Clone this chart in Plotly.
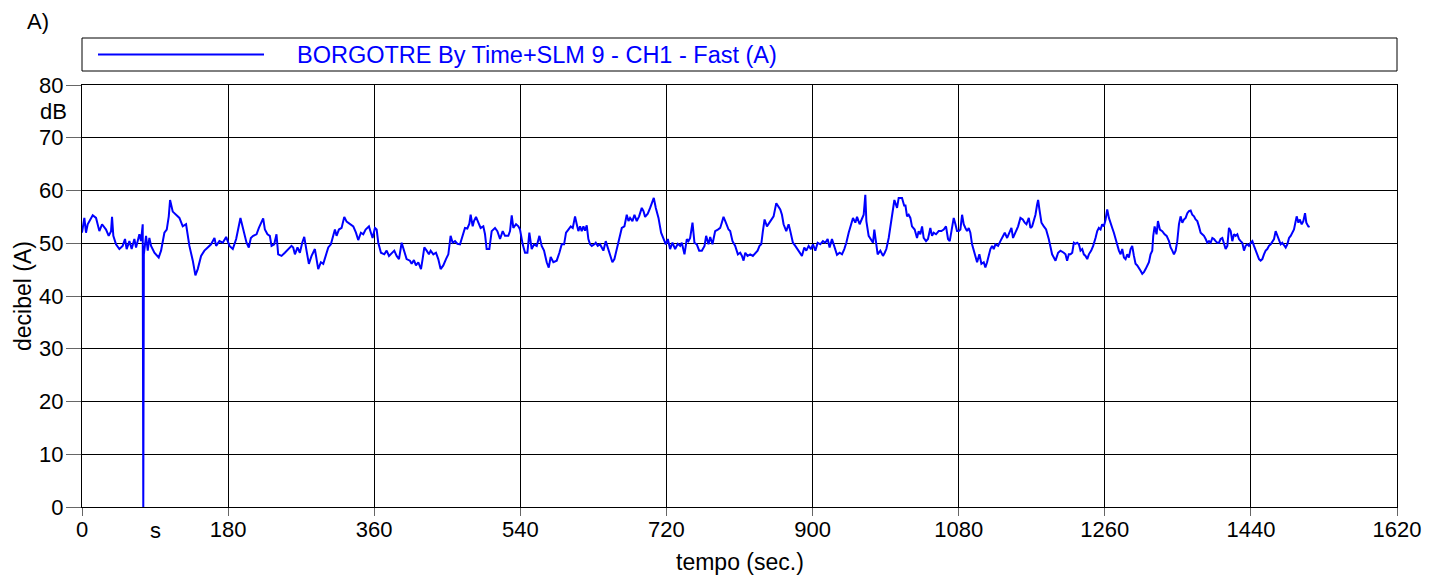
import plotly.graph_objects as go

# ---- data ----
series_name = "BORGOTRE By Time+SLM 9 - CH1 - Fast (A)"
x_tick_vals = [0, 180, 360, 540, 720, 900, 1080, 1260, 1440, 1620]
y_tick_vals = [0, 10, 20, 30, 40, 50, 60, 70, 80]

time_s = [
    0, 2.9, 4.9, 7, 13.2, 17.3, 21.4, 24.7, 29.6, 32.9, 35.8, 37, 38.6, 41.9, 46, 50.1, 53, 55, 58.4, 61.2,
    64.5, 66.6, 70.7, 72.7, 74.8, 75.5, 76.2, 78.9, 81, 83, 85.1, 89.2, 94.5, 97.4, 101.5, 104.4, 106.9, 108.5,
    111.8, 115.9, 120, 124.1, 128.2, 132.3, 136.5, 139.7, 142.6, 146.7, 150.8, 154.9, 159, 163.2, 165.2, 169.3,
    173.4, 177.6, 181.7, 185.8, 189.9, 195.2, 198.1,
    202.7, 205.5, 208, 210.9, 215, 217.9, 220.3, 223.2, 225.3, 228.5, 231.4, 233.5, 236.8, 239.6, 241.7, 245.8,
    249.9, 254, 258.1, 260.2, 262.3, 265.5, 268.4, 271.3, 273.8, 276.6, 279.5, 282.8, 286.9, 291, 294.3, 297.2,
    300.1, 303.4, 306.6, 309.5, 311.6, 313.6, 316.5, 319.8, 323.1, 326, 330.1, 334.2, 337.5, 340.3, 343.6, 346.5,
    349.4, 353.5, 355.9, 358, 360.9, 363, 365, 368.3, 372.4, 375.3, 378.2, 381.4, 384.7, 387.6, 390.5, 393.8,
    397.1, 399.9,
    404, 406.1, 408.9, 411.4, 414.3, 417.6, 419.6, 421.7, 424.6, 427.4, 429.5, 432.8, 436.1, 438.9, 441.8, 445.1,
    448.4, 451.3, 454.1, 456.6, 459.5, 462.4, 465.7, 468.9, 471.8, 474.7, 477.2, 478.8, 481.3, 482.9, 485.4, 488.3,
    491.1, 494.4, 496.5, 498.5, 501.8, 504.7, 508.8, 511.7, 515, 518.3, 521.1, 525.2, 527.3, 529.4, 531.4, 534.7,
    537.6, 539.6, 542.9, 545.8, 548.7, 551.1, 554, 556.9, 560.2, 563.5, 566.3, 569.2, 572.5, 575, 577.4, 580.7,
    584.8, 588.1, 591, 593.9, 596.3, 599.2, 602.1, 604.6,
    607.4, 609.5, 611.5, 613.6, 615.6, 617.7, 619.7, 621.8, 623.8, 625.9, 628, 631.2, 632.9, 635.3, 638.2, 640.3,
    642.3, 645.2, 647.7, 650.6, 653.4, 655.9, 658.8, 661.7, 665, 668.2, 671.1, 673.2, 675.2, 678.1, 680.6, 683.4,
    686.3, 689.6, 691.7, 693.7, 697, 699.9, 701.9, 704.4, 706.9, 710.2, 713.4, 716.3, 719.2, 721.7, 724.5, 727.4,
    730.7, 734, 736.9, 738.9, 742.2, 745.1, 747.1, 749.2, 752.1, 754.5, 757.4, 760.3, 763.6, 766.9, 768.9, 771.8,
    773.9, 776.7, 780, 783.3, 786.2, 788.2, 790.3, 793.2, 796.5, 798.5, 801.4, 804.7, 808,
    810.9, 813, 815, 817.1, 819.9, 823.2, 826.5, 829.4, 832.3, 834.7, 836.8, 838.8, 840.9, 843.8, 847.1, 849.9,
    852, 855.3, 858.2, 860.2, 862.3, 864.3, 867.6, 870.5, 872.6, 875.8, 878.7, 881.6, 884.1, 886.9, 889.8, 892.3,
    895.2, 898, 900.5, 903.4, 906.3, 909.5, 912.8, 915.7, 918.6, 921, 923.9, 926.8, 930.1, 933.4, 936.3, 939.1,
    941.6, 944.5, 946.5, 949.8, 952.7, 954.8, 958, 960.9, 963, 965, 966.3, 969.1, 972, 974.5, 976.1, 978.6,
    980.2, 983.5, 986.8, 988.9, 990.9, 993.8, 996.7, 999.1, 1000.8, 1004.1, 1006.1, 1010.2, 1013.1,
    1014.3, 1016.4, 1018.4, 1020.5, 1022.5, 1025.8, 1028.7, 1030.7, 1032.8, 1034.9, 1036.9, 1039.8, 1042.2,
    1045.1, 1047.2, 1049.2, 1052.1, 1055.4, 1058.7, 1061.6, 1064.4, 1066.9, 1069, 1071, 1073.9, 1076, 1078,
    1080.1, 1082.1, 1084.2, 1086.2, 1088.3, 1090.3, 1092.4, 1094.4, 1096.5, 1098.6, 1100.6, 1102.7, 1105.5,
    1108, 1110.9, 1112.9, 1115, 1117, 1119.1, 1121.2, 1123.2, 1125.3, 1128.6, 1131.4, 1133.5, 1136.8, 1139.7,
    1141.7, 1145, 1147, 1149.9, 1153.2, 1156.1, 1159, 1161.4, 1163.5, 1166.4, 1168.4, 1170.5, 1172.5, 1174.6,
    1176.6, 1177.9, 1179.5, 1182, 1184.9, 1187.7, 1191, 1193.1, 1195.1, 1197.2, 1199.3, 1202.5, 1205.4, 1209.5,
    1211.6, 1213.6, 1215.7,
    1217.8, 1219.9, 1221.9, 1224, 1226, 1228.1, 1230.1, 1232.2, 1234.2, 1236.3, 1238.4, 1240.4, 1243.3, 1245.7,
    1248.6, 1250.7, 1252.7, 1254.8, 1256.8, 1258.9, 1261, 1263, 1265.1, 1267.1, 1269.2, 1271.2, 1273.3, 1275.3,
    1277.4, 1279.5, 1281.5, 1283.6, 1285.6, 1287.7, 1289.7, 1291.8, 1293.8, 1295.9, 1297.9, 1300, 1302.1, 1304.1,
    1306.2, 1308.2, 1310.3, 1312.3, 1314.4, 1316.4, 1318.5, 1319.7, 1321.4, 1323.8, 1325.5, 1327.9, 1330.8,
    1333.7, 1336.2, 1339.1, 1341.1, 1343.2, 1345.2, 1347.3, 1349.3, 1351.4, 1353.4, 1355.5, 1357.5, 1359.6,
    1361.7, 1363.7, 1365.8, 1367.8, 1369.9, 1371.9, 1374, 1376, 1378.1, 1380.1, 1382.2, 1384.3, 1386.3, 1388.4,
    1390.4, 1392.5, 1394.5, 1396.6, 1398.6, 1400.7, 1402.7, 1404.8, 1406.9, 1408.9, 1411, 1413, 1415.1, 1417.1,
    1419.2,
    1421.2, 1423.3, 1425.3, 1427.4, 1429.4, 1431.5, 1433.5, 1435.6, 1437.6, 1439.7, 1441.8, 1443.8, 1445.9,
    1447.9, 1450, 1452, 1454.1, 1456.1, 1458.2, 1460.2, 1462.3, 1464.4, 1466.4, 1468.5, 1470.5, 1472.6, 1474.6,
    1476.7, 1478.7, 1480.8, 1482.9, 1484.9, 1487, 1489, 1491.1, 1493.1, 1495.2, 1496.4, 1498.5, 1500.1, 1502.6,
    1504.6, 1506.7, 1508.3, 1510.8, 1512.4,
]

level_db = [
    52, 54.8, 52, 53.6, 55.3, 54.8, 52.3, 53.6, 52.6, 51.4, 52.3, 55, 51.4, 49.8, 48.9, 49.5, 50.8, 48.9, 50.4, 48.9,
    50.8, 49.2, 51.7, 50.4, 53.6, 0, 47.9, 51.4, 48.6, 51, 49.5, 48.2, 47.3, 48.6, 52, 52.6, 55.1, 58.2,
    56, 55.4, 54.8, 53.2, 53.6, 49.5, 46.7, 43.9, 45.1, 47.6, 48.6, 49.2, 49.8, 51, 49.5, 50.4,
    50.1, 51.2, 49.5, 48.9, 50.8, 54.8, 52.9,
    50.1, 49.2, 51, 51.4, 51.7, 52.9, 53.6, 54.7, 52.6, 51.7, 51.4, 49.5, 49.8, 51.7, 47.9, 47.6,
    48.2, 48.9, 49.5, 49.2, 47.9, 49.2, 48.2, 50.1, 51.2, 48.6, 46.1, 47.6, 48.9, 45.1, 46.4, 46.1,
    47.6, 49.2, 49.8, 51.4, 52.6, 51.4, 52.6, 52.9, 55, 54.1, 53.7, 53.2, 52, 50.6, 52, 51.7,
    52.6, 53.2, 52, 51, 52.9, 52.6, 50.1, 48.2, 47.9, 48.6, 47.6, 48.2, 48.6, 47.6, 47, 50.1,
    48.2, 47,
    46.7, 46.1, 46.8, 45.8, 46.4, 45.1, 47, 49.2, 48.6, 47.9, 48.6, 47.9, 48.2, 47, 45.1, 45.8,
    47, 47.9, 51.4, 50.1, 50.4, 49.9, 49.8, 51.4, 52.9, 52.8, 53.7, 55.4, 53.2, 54.2, 55, 53.9,
    52.9, 53.2, 51.7, 48.9, 48.9, 52.3, 52.9, 52.3, 50.8, 52.3, 51.4, 51.4, 52.3, 55.3, 52.9, 53.6,
    53.2, 52.6, 49.8, 48.2, 48.2, 52, 48.9, 49.8, 49.5, 51.4, 49.5, 48.6, 46.4, 45.4, 47.4, 46.4,
    46.7, 48.2, 49.8, 49.8, 52, 52.6, 53.2, 52.9,
    55.1, 53.6, 52.3, 53.2, 52.3, 53.2, 52.4, 53.4, 50.8, 49.8, 49.5, 49.8, 50.1, 49.5, 49.8, 49.2,
    48.6, 50.4, 49.2, 47.6, 46.4, 47, 48.9, 50.4, 52.9, 53.2, 55.4, 54.2, 54.8, 54.2, 55.4, 54.2,
    55.1, 56.7, 56.1, 55, 55.6, 56.7, 57.6, 58.6, 56.7, 54.8, 52, 51, 49.8, 50.8, 48.9, 50.1,
    48.9, 49.9, 49.5, 50.1, 47.9, 50.8, 50.4, 51, 53.9, 50.1, 49.8, 48.6, 48.6, 49.5, 51.4, 49.8,
    51.2, 49.8, 52.3, 52.6, 52.9, 53.9, 55, 53.9, 52.6, 52.3, 50.4, 49.5, 47.9,
    48.2, 47.6, 46.7, 48.2, 47.6, 47.9, 47.6, 48.2, 48.6, 49.5, 49.8, 52.3, 54.5, 53.2, 53.9, 54.5,
    55.1, 57.6, 57, 56.4, 55.4, 53.6, 52.3, 53.6, 52.3, 50.1, 49.5, 48.9, 48.2, 47.6, 49.2, 48.6,
    49.5, 48.9, 49.8, 48.6, 50.1, 49.8, 50.4, 50.1, 50.8, 49.2, 50.8, 49.2, 47.8, 48.2, 47.9, 48.9,
    50.1, 52, 53.2, 54.8, 53.9, 55, 53.6, 54.5, 55.4, 59.2, 54.2, 51.4, 50.8, 50.1, 52.6, 49.5,
    47.9, 48.6, 47.6, 48.2, 48.9, 51, 54.2, 56.4, 58.2, 56.7, 58.6, 58.6, 57,
    57.3, 55.1, 55.4, 54.8, 53.2, 52.6, 51, 52.3, 51.7, 53.2, 51, 50.4, 50.8,
    52.9, 51.4, 52, 51.7, 52.3, 52.3, 52.6, 53.2, 50.8, 50.4, 52.3, 54.8, 53.6, 52.3,
    52.3, 52.6, 55.4, 53.6, 52.9, 52.3, 52.9, 52, 49.8, 48.6, 47.6, 46.4, 47.9,
    46.1, 46.4, 45.4, 46.4, 47.6, 48.9, 49.5, 48.9, 49.8, 49.5, 50.4, 51, 52, 51,
    51.7, 52.9, 51, 52, 53.2, 54.8, 54.5, 53.9, 53.6, 54.8, 52.9, 53.2, 54.2, 55.4,
    57.3, 58.2, 56.4, 53.9, 53.2, 52.6, 50.8, 48.9, 47.9, 47.3, 46.7, 48.2, 48.6, 48.2,
    47.9, 46.7, 47.9,
    47.9, 48.2, 50.1, 49.9, 50.1, 49.8, 48.6, 48.9, 47.9, 47.6, 47, 47.9, 48.6, 49.5,
    51, 52.3, 52.9, 52.6, 53.6, 53.2, 54.5, 56.4, 54.8, 53.6, 52.9, 52, 50.8, 49.5,
    48.6, 47.9, 48.9, 47.3, 47, 47.9, 47.3, 48.9, 49.5, 47.6, 46.1, 45.8, 45.4, 44.8,
    44.2, 44.5, 45.1, 45.8, 46.4, 47.9, 48.6, 51.4, 53.2, 51.7, 54.2, 52.6, 52.3,
    51.7, 51.4, 50.4, 49.2, 48.6, 47.9, 48.6, 50.4, 53.6, 55.1, 53.9, 54.5, 54.8,
    55.7, 56.1, 56.2, 55.4, 55.1, 54.5, 54.2, 53.2, 52, 51.7, 51.4, 50.8, 50.1, 50.4,
    50.1, 51, 50.8, 50.4, 50.1, 50.1, 50.8, 51, 49.8, 48.9, 49.5, 52.9, 52.3, 50.4,
    51.7,
    51.4, 51.7, 50.8, 50.4, 50.1, 48.6, 49.5, 49.8, 49.5, 50.1, 50.4, 49.5, 48.6,
    47.6, 47, 46.7, 47, 47.9, 48.6, 48.9, 49.5, 49.8, 50.4, 50.8, 52.3, 51.4, 50.4,
    49.8, 50.1, 49.5, 49.2, 49.8, 51, 51.4, 52, 52.6, 54.2, 55.1, 53.9, 54.5, 53.6,
    54.2, 55.7, 53.9, 53.2, 53.1,
]

assert len(time_s) == len(level_db), (len(time_s), len(level_db))

BLUE = "#0000FF"
FONT = "Liberation Sans, Arial, sans-serif"
FS = 22
TITLE_FS = 23

fig = go.Figure()
fig.add_trace(go.Scatter(
    x=time_s, y=level_db, mode="lines", name=series_name,
    line=dict(color=BLUE, width=2), showlegend=False,
))

# The page has an 8px body margin, so the figure is drawn 8px right/down.
OFF = 8
W, H = 1441 - OFF, 576 - OFF
ML, MR, MT, MB = 82 - OFF, 44, 85 - OFF, 69
pw, ph = W - ML - MR, H - MT - MB


def px_x(p):  # p: x pixel in the screenshot
    return (p - OFF - ML) / pw


def px_y(p):  # p: y pixel in the screenshot
    return 1 + (MT - (p - OFF)) / ph


fig.update_layout(
    width=W, height=H,
    margin=dict(l=ML, r=MR, t=MT, b=MB, pad=0, autoexpand=False),
    paper_bgcolor="white", plot_bgcolor="white",
    font=dict(family=FONT, size=FS, color="black"),
    xaxis=dict(
        range=[0, 1620], tickvals=x_tick_vals, ticktext=[str(v) for v in x_tick_vals],
        showgrid=True, gridcolor="black", gridwidth=1, automargin=False,
        showline=True, linecolor="black", linewidth=1, mirror=True,
        ticks="outside", ticklen=8, tickcolor="#666", zeroline=False,
        ticklabelstandoff=-5,
    ),
    yaxis=dict(
        range=[0, 80], tickvals=y_tick_vals, ticktext=[str(v) for v in y_tick_vals],
        showgrid=True, gridcolor="black", gridwidth=1, automargin=False,
        showline=True, linecolor="black", linewidth=1, mirror=True,
        ticks="outside", ticklen=15, tickcolor="#666", zeroline=False,
        ticklabelstandoff=-2,
    ),
    shapes=[
        dict(type="rect", xref="paper", yref="paper",
             x0=0, x1=1, y0=px_y(71), y1=px_y(38),
             line=dict(color="black", width=1), fillcolor="white", layer="above"),
        dict(type="line", xref="paper", yref="paper",
             x0=px_x(98), x1=px_x(264), y0=px_y(54.5), y1=px_y(54.5),
             line=dict(color=BLUE, width=2), layer="above"),
    ],
    annotations=[
        dict(text=series_name, xref="paper", yref="paper", x=px_x(295), y=px_y(54.5),
             xanchor="left", yanchor="middle", showarrow=False,
             font=dict(color=BLUE, size=23.5, family=FONT)),
        dict(text="A)", xref="paper", yref="paper", x=px_x(25), y=px_y(21),
             xanchor="left", yanchor="middle", showarrow=False),
        dict(text="dB", xref="paper", yref="y", x=0, y=75, xanchor="right", yanchor="middle",
             xshift=-13, showarrow=False),
        dict(text="s", xref="x", yref="paper", x=90, y=0, xanchor="center", yanchor="top",
             yshift=-9, showarrow=False),
        dict(text="tempo (sec.)", xref="paper", yref="paper", x=0.5, y=px_y(562),
             xanchor="center", yanchor="middle", showarrow=False,
             font=dict(size=TITLE_FS)),
        dict(text="decibel (A)", xref="paper", yref="paper", x=px_x(23), y=0.5,
             xanchor="center", yanchor="middle", textangle=-90, showarrow=False,
             borderpad=0, font=dict(size=TITLE_FS)),
    ],
)

fig.write_html("out.html")
